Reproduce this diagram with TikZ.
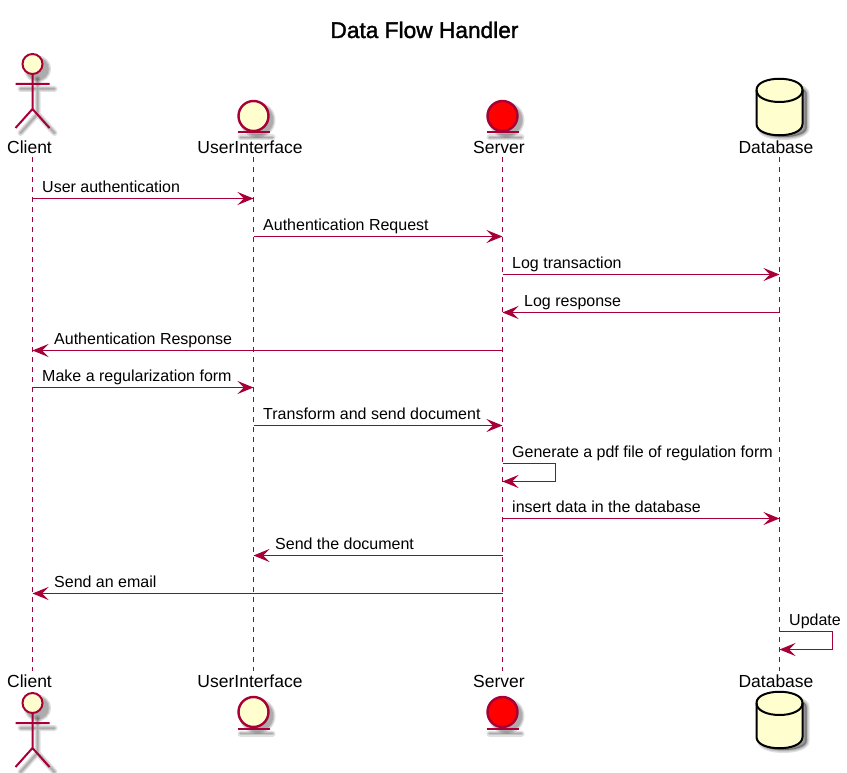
\documentclass[tikz,border=0pt]{standalone}
\usepackage{fontspec}
\setmainfont{Liberation Sans}
\newfontfamily\titlefont[FakeBold=1.5]{Liberation Sans}
\usetikzlibrary{arrows.meta}
\definecolor{umlred}{HTML}{A80036}
\definecolor{umlfill}{HTML}{FEFECE}

\begin{document}
\begin{tikzpicture}[
    x=1pt, y=-1pt,
    >={Stealth[length=16pt, width=13pt, inset=6.5pt]}, % Default arrow tip
    lifeline/.style={umlred, line width=1.2pt, dash pattern=on 5pt off 5pt}, % Dashed lifelines
    msg/.style={umlred, line width=1.2pt, ->}, % Style for messages
    msglabel/.style={anchor=base west, inner sep=0pt, font=\fontsize{16}{18}\selectfont}, % Message texts
    partlabel/.style={anchor=base, inner sep=0pt, font=\fontsize{17.5}{20}\selectfont}, % Participant names
    shade/.style={black, opacity=0.12, line cap=round}, % Soft drop shadow
    % Stick figure
    actorpic/.pic={
        \foreach \w in {6,3.5,1.5} {
            \draw[shade, line width=\w pt, shift={(5,5)}] (0,10) -- (0,45) (-17,20) -- (17,20) (-17,64) -- (0,45) -- (17,64);
            \fill[shade, shift={(5,5)}] (0,0) circle ({10.5+\w/2});
        }
        \draw[umlred, line width=2pt, fill=umlfill] (0,0) circle (10);
        \draw[umlred, line width=2pt] (0,10) -- (0,45) (-17,20) -- (17,20) (-17,64) -- (0,45) -- (17,64);
    },
    % Circle standing on a bar
    entitypic/.pic={
        \foreach \w in {6,3.5,1.5} {
            \fill[shade, shift={(4,4)}] (0,0) circle ({15+\w/2});
            \draw[shade, line width=\w pt, shift={(3,5)}] (-16,16.5) -- (16,16.5);
        }
        \draw[umlred, line width=2.4pt, fill=#1] (0,0) circle (15);
        \draw[umlred, line width=2pt] (-16,16.5) -- (16,16.5);
    },
    % Cylinder
    dbpic/.pic={
        \foreach \w in {6,3.5,1.5} {
            \fill[shade, draw=black, line width=\w pt, shift={(4,4)}] (-23,12) .. controls (-23,0) and (23,0) .. (23,12) -- (23,46) .. controls (23,58) and (-23,58) .. (-23,46) -- cycle;
        }
        \draw[black, line width=2pt, fill=umlfill] (-23,12) .. controls (-23,-3) and (23,-3) .. (23,12) -- (23,46) .. controls (23,61) and (-23,61) .. (-23,46) -- cycle;
        \draw[black, line width=2pt] (-23,12) .. controls (-23,28) and (23,28) .. (23,12);
    }
]

    % Page size
    \useasboundingbox (0,0) rectangle (847,773);
    \fill[white] (0,0) rectangle (847,773);

    % Title
    \node[anchor=base, inner sep=0pt, font=\titlefont\fontsize{22.7}{26}\selectfont] (title) at (424.5,38) {Data Flow Handler};

    % Names at both ends
    \foreach \name/\x/\lab in {client/29.5/Client, ui/250/UserInterface, server/499/Server, db/776/Database} {
        \node[partlabel] (\name Top) at (\x,154) {\lab};
        \node[partlabel] (\name Bot) at (\x,687) {\lab};
    }

    % Lifelines
    \foreach \name/\x in {client/32.5, ui/253.5, server/502.5, db/779.5} {
        \coordinate (\name Start) at (\x,157);
        \coordinate (\name End) at (\x,671);
        \draw[lifeline] (\name Start) -- (\name End);
    }

    % Figures at both ends
    \foreach \y in {64,703} {
        \pic at (32.5,\y) {actorpic};
    }
    \foreach \y in {116,712} {
        \pic at (253.5,\y) {entitypic=umlfill};
        \pic at (502.5,\y) {entitypic=red};
    }
    \foreach \y in {78,691} {
        \pic at (779.5,\y) {dbpic};
    }

    % Messages going right
    \foreach \n/\from/\to/\y/\lab in {
        a/client/ui/198.5/User authentication,
        b/ui/server/236.5/Authentication Request,
        c/server/db/274.5/Log transaction,
        f/client/ui/387.5/Make a regularization form,
        g/ui/server/425.5/Transform and send document,
        i/server/db/518.5/insert data in the database} {
        \coordinate (row\n) at (0,\y);
        \draw[msg] (\from Start |- row\n) -- (\to Start |- row\n);
        \node[msglabel] (label\n) at ([shift={(9.5,-6)}] \from Start |- row\n) {\lab};
    }

    % Messages going left
    \foreach \n/\from/\to/\y/\lab in {
        d/db/server/312.5/Log response,
        e/server/client/350.5/Authentication Response,
        j/server/ui/555.5/Send the document,
        k/server/client/593.5/Send an email} {
        \coordinate (row\n) at (0,\y);
        \draw[msg] (\from Start |- row\n) -- (\to Start |- row\n);
        \node[msglabel] (label\n) at ([shift={(21.5,-6)}] \to Start |- row\n) {\lab};
    }

    % Messages to itself
    \foreach \n/\from/\y/\lab in {
        h/server/463.5/Generate a pdf file of regulation form,
        l/db/631.5/Update} {
        \coordinate (row\n) at (0,\y);
        \draw[msg] (\from Start |- row\n) -- ++(53,0) -- ++(0,18) -- ([shift={(0,18)}] \from Start |- row\n);
        \node[msglabel] (label\n) at ([shift={(9.5,-6)}] \from Start |- row\n) {\lab};
    }

\end{tikzpicture}
\end{document}
